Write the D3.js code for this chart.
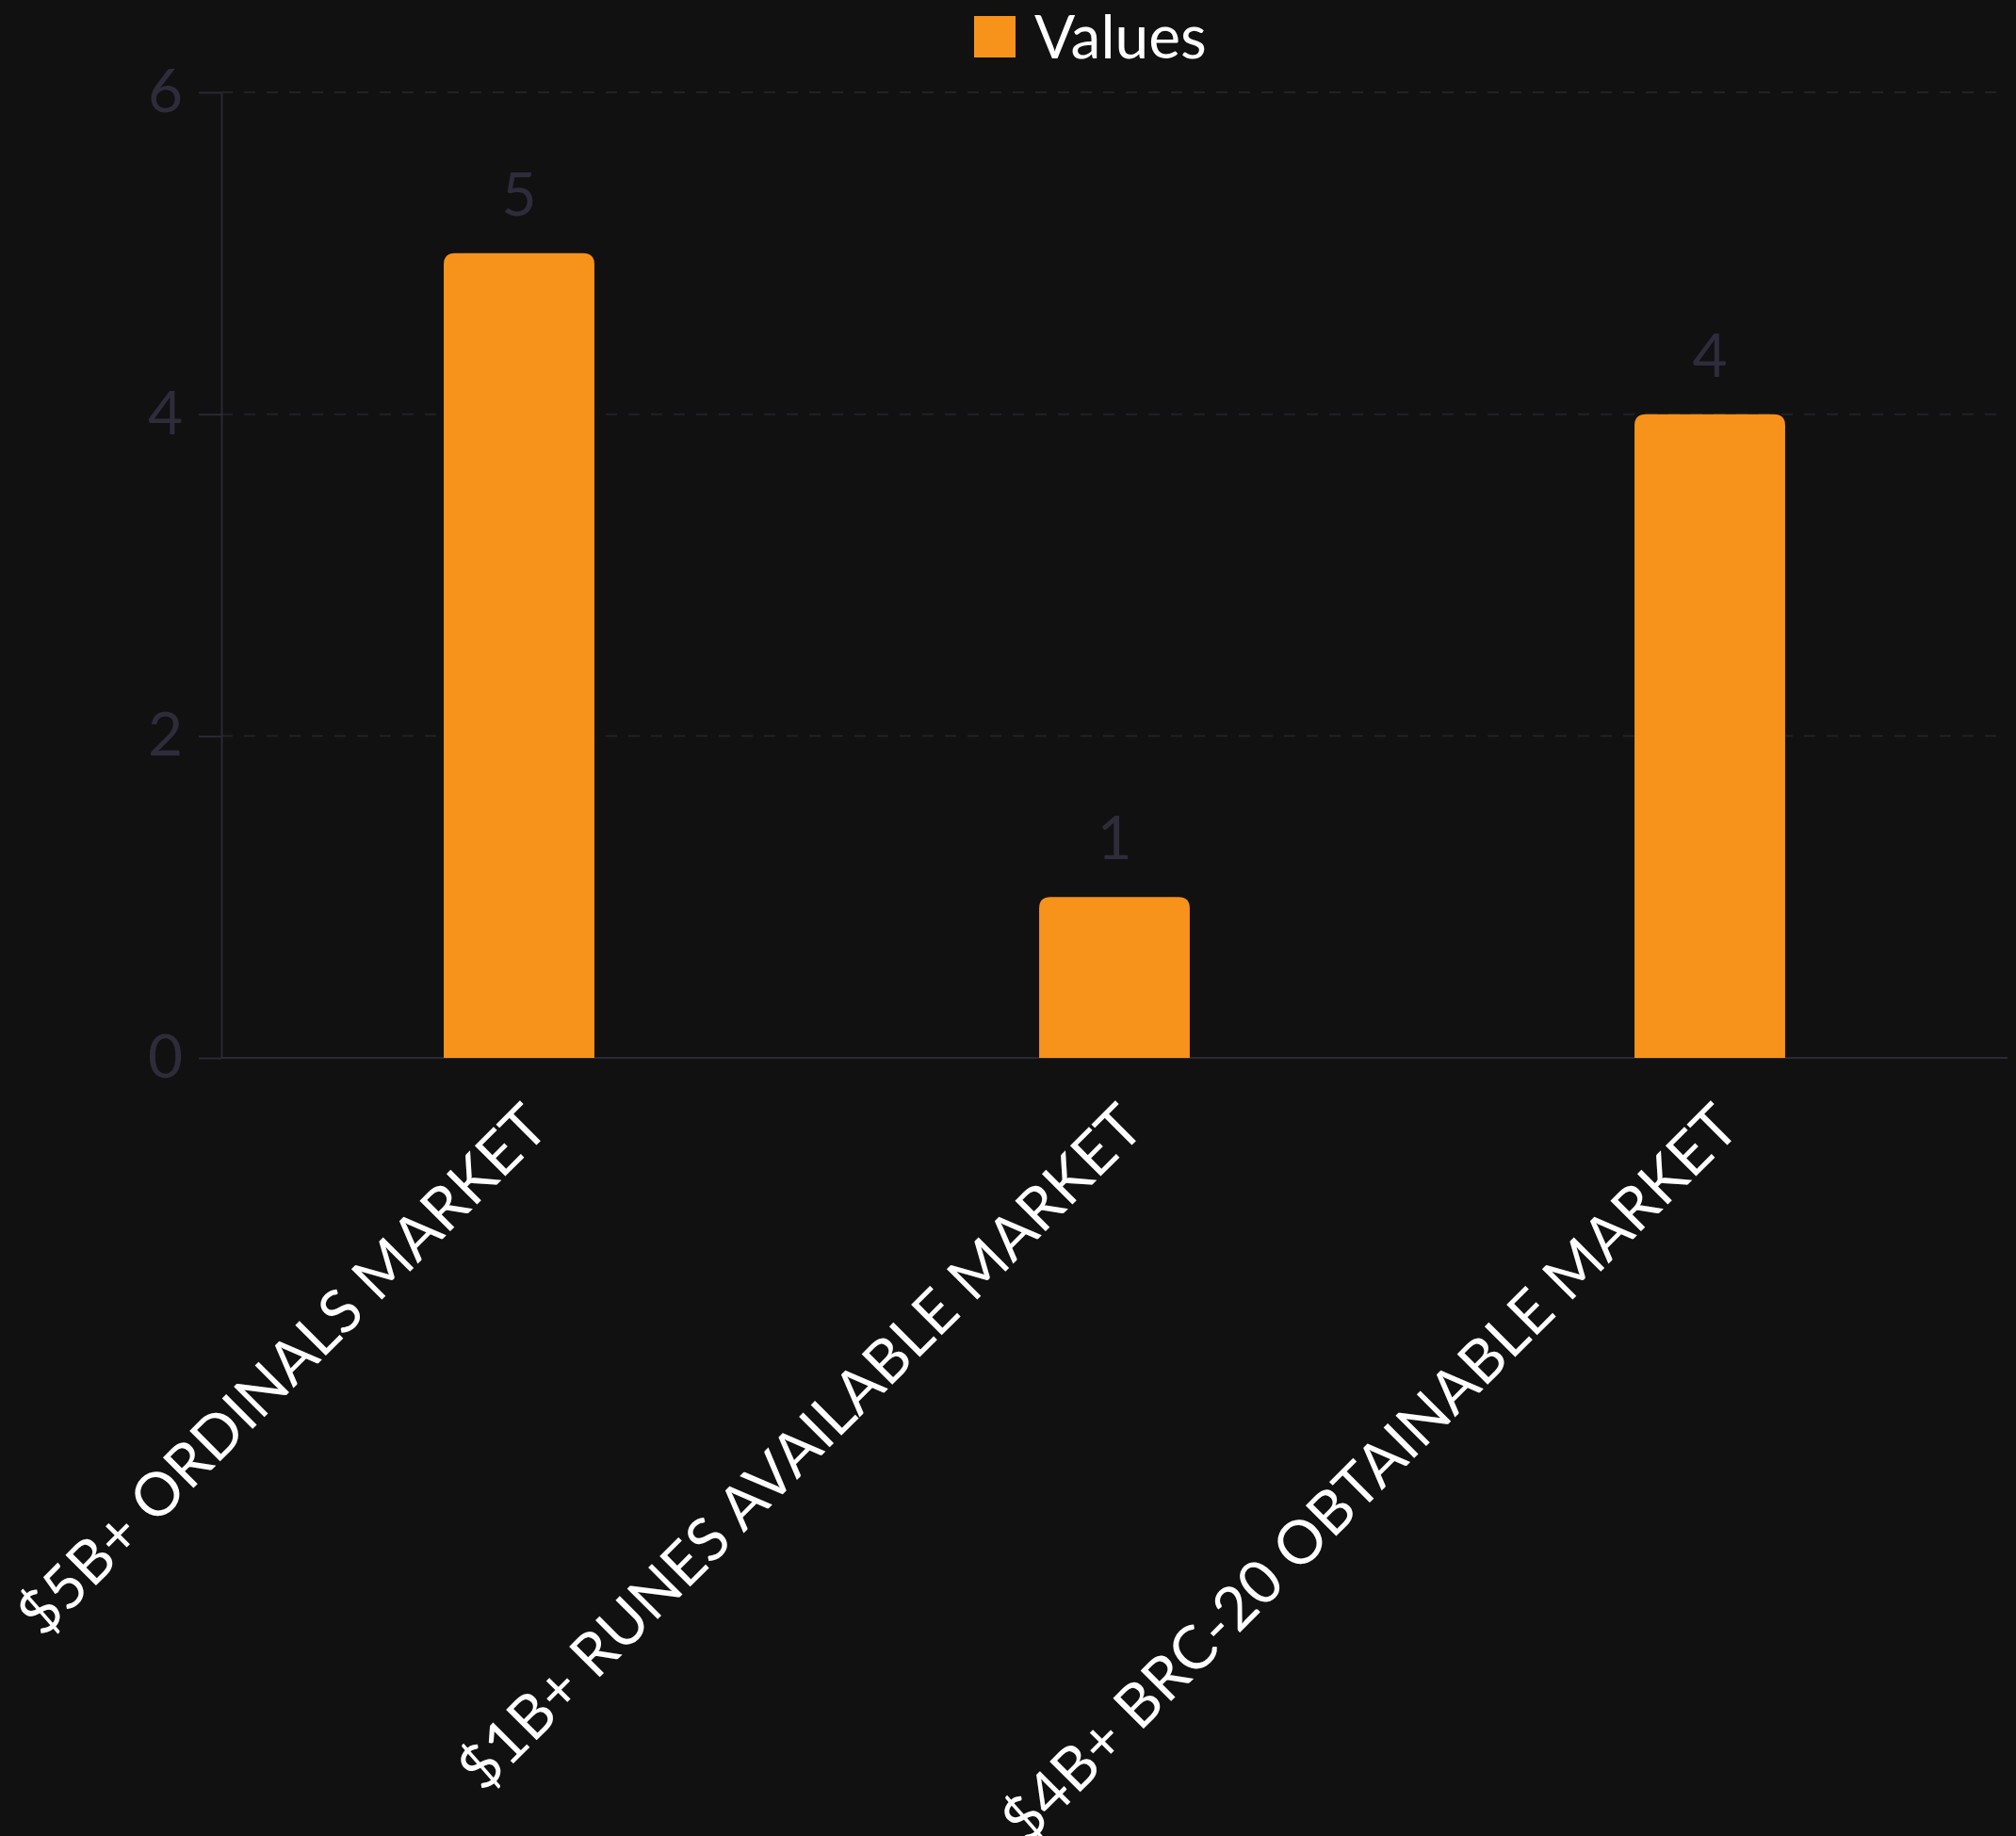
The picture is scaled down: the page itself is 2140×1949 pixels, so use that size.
<!DOCTYPE html>
<html lang="en">
<head>
    <meta charset="UTF-8">
    <title>Market bars</title>
    <style>
        html, body {
            margin: 0;
            padding: 0;
            background: #111111;
        }
        svg {
            display: block;
            font-family: Lato, "Open Sans", sans-serif;
        }
    </style>
</head>
<body>
    <div id="chart"></div>
    <script src="https://d3js.org/d3.v7.min.js"></script>
    <script>
        // data
        var categories = ["$5B+ ORDINALS MARKET", "$1B+ RUNES AVAILABLE MARKET", "$4B+ BRC-20 OBTAINABLE MARKET"];
        var values = [5, 1, 4];
        var yTicks = [0, 2, 4, 6];
        var seriesName = "Values";

        var width = 2140;
        var height = 1949;
        var orange = "#f7931a";
        var dimText = "#2e2c3b";

        var svg = d3.select("#chart")
                    .append("svg")
                    .attr("width", width)
                    .attr("height", height);

        svg.append("rect")
           .attr("width", width)
           .attr("height", height)
           .attr("fill", "#111111");

        // plot area edges (not "top": that name belongs to window)
        var plotLeft = 235, plotRight = 2131, plotTop = 98, plotBottom = 1123;

        var x = d3.scaleBand()
                  .domain(categories)
                  .range([plotLeft, plotRight])
                  .paddingInner(0.747)
                  .paddingOuter(0.3735);

        var y = d3.scaleLinear()
                  .domain([0, 6])
                  .range([plotBottom, plotTop]);

        // dashed grid lines
        svg.append("g")
           .selectAll("line")
           .data(yTicks.filter(function(d) { return d > 0; }))
           .enter()
           .append("line")
           .attr("x1", plotLeft)
           .attr("x2", plotRight - 10)
           .attr("y1", function(d) { return y(d); })
           .attr("y2", function(d) { return y(d); })
           .attr("stroke", "#222128")
           .attr("stroke-width", 2)
           .attr("stroke-dasharray", "12,12");

        // y axis
        var yAxis = svg.append("g")
                       .attr("transform", "translate(" + plotLeft + ",0)")
                       .call(d3.axisLeft(y)
                               .tickValues(yTicks)
                               .tickFormat(d3.format("d"))
                               .tickSize(24)
                               .tickSizeOuter(0)
                               .tickPadding(17));
        yAxis.select(".domain").attr("stroke", "#2a2935").attr("stroke-width", 2);
        yAxis.selectAll(".tick line").attr("stroke", "#2a2935").attr("stroke-width", 2);
        yAxis.selectAll(".tick text")
             .attr("fill", dimText)
             .attr("font-size", 64)
             .attr("font-family", "Lato, sans-serif");

        // baseline along zero
        svg.append("line")
           .attr("x1", plotLeft)
           .attr("x2", plotRight)
           .attr("y1", y(0))
           .attr("y2", y(0))
           .attr("stroke", "#2a2935")
           .attr("stroke-width", 2);

        // bars with rounded tops
        var r = 12;
        function barPath(d, i) {
            var x0 = x(categories[i]);
            var x1 = x0 + x.bandwidth();
            var yt = y(d);
            var yb = y(0);
            return "M" + x0 + "," + yb +
                   "V" + (yt + r) +
                   "Q" + x0 + "," + yt + " " + (x0 + r) + "," + yt +
                   "H" + (x1 - r) +
                   "Q" + x1 + "," + yt + " " + x1 + "," + (yt + r) +
                   "V" + yb + "Z";
        }

        svg.append("g")
           .selectAll("path")
           .data(values)
           .enter()
           .append("path")
           .attr("d", barPath)
           .attr("fill", orange);

        // value labels above bars
        svg.append("g")
           .selectAll("text")
           .data(values)
           .enter()
           .append("text")
           .attr("x", function(d, i) { return x(categories[i]) + x.bandwidth() / 2; })
           .attr("y", function(d) { return y(d) - 40; })
           .attr("text-anchor", "middle")
           .attr("font-size", 64)
           .attr("fill", dimText)
           .text(function(d) { return d; });

        // rotated category labels
        svg.append("g")
           .selectAll("text")
           .data(categories)
           .enter()
           .append("text")
           .attr("transform", function(d) {
               var cx = x(d) + x.bandwidth() / 2 + 34;
               return "translate(" + cx + "," + (plotBottom + 77) + ") rotate(-45)";
           })
           .attr("text-anchor", "end")
           .attr("font-size", 64)
           .attr("fill", "#ffffff")
           .text(function(d) { return d; });

        // legend
        var legend = svg.append("g");
        legend.append("rect")
              .attr("x", 1034)
              .attr("y", 17)
              .attr("width", 44)
              .attr("height", 44)
              .attr("fill", orange);
        legend.append("text")
              .attr("x", 1098)
              .attr("y", 62)
              .attr("font-size", 64)
              .attr("fill", "#ffffff")
              .text(seriesName);
    </script>
</body>
</html>
